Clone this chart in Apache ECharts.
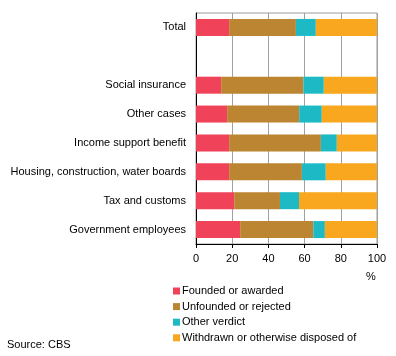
<!DOCTYPE html>
<html><head><meta charset="utf-8">
<script src="https://cdn.jsdelivr.net/npm/echarts@6/dist/echarts.min.js"></script>
<style>html,body{margin:0;padding:0;background:#fff}#c{width:396px;height:356px}</style>
</head><body><div id="c"></div>
<script>
const categories = ['Government employees','Tax and customs','Housing, construction, water boards','Income support benefit','Other cases','Social insurance','','Total'];
const founded   = [24.4, 21.1, 18.3, 18.3, 17.2, 13.9, null, 18.3];
const unfounded = [40.4, 25.3, 40.2, 50.7, 39.8, 45.4, null, 36.9];
const other     = [6.4, 10.5, 13.2, 8.8, 12.5, 11.3, null, 11.0];
const withdrawn = [28.8, 43.1, 28.3, 22.2, 30.5, 29.4, null, 33.8];
const xTicks = [0, 20, 40, 60, 80, 100];
const seriesNames = ['Founded or awarded','Unfounded or rejected','Other verdict','Withdrawn or otherwise disposed of'];
const colors = ['#F0435A','#BC8532','#1DBAC6','#F8A71E'];
const font = 'Liberation Sans, Arial, sans-serif';
const chart = echarts.init(document.getElementById('c'), null, {renderer:'canvas'});
const mk = (name, data, i) => ({
  name, type:'bar', stack:'s', data, barWidth:17,
  itemStyle:{color:colors[i]}, emphasis:{disabled:true}
});
chart.setOption({
  animation:false,
  textStyle:{fontFamily:font},
  grid:{left:196, top:13, right:19, bottom:112, show:true, borderColor:'#9a9a9a', borderWidth:1},
  xAxis:{
    type:'value', min:xTicks[0], max:xTicks[xTicks.length-1], interval:20,
    axisLine:{show:true, onZero:false, lineStyle:{color:'#000'}},
    axisTick:{show:true, length:4, lineStyle:{color:'#000'}},
    axisLabel:{color:'#000', fontSize:11, margin:9, fontFamily:font},
    splitLine:{show:true, lineStyle:{color:'#a0a0a0', width:1}}
  },
  yAxis:{
    type:'category', data:categories,
    axisLine:{show:true, lineStyle:{color:'#000'}},
    axisTick:{show:false},
    axisLabel:{color:'#000', fontSize:11, margin:10, fontFamily:font},
    splitLine:{show:false}
  },
  legend:{
    orient:'vertical', left:168, top:280, itemWidth:7, itemHeight:7, itemGap:3.6,
    icon:'rect', selectedMode:false,
    textStyle:{color:'#000', fontSize:11, lineHeight:12, padding:[0,0,0,-3], fontFamily:font},
    data:seriesNames
  },
  graphic:[
    {type:'text', left:366, top:271, style:{text:'%', fill:'#000', font:'11px '+font}},
    {type:'text', left:7, top:339, style:{text:'Source: CBS', fill:'#000', font:'11px '+font}}
  ],
  series:[mk(seriesNames[0],founded,0),mk(seriesNames[1],unfounded,1),mk(seriesNames[2],other,2),mk(seriesNames[3],withdrawn,3)]
});
</script></body></html>
